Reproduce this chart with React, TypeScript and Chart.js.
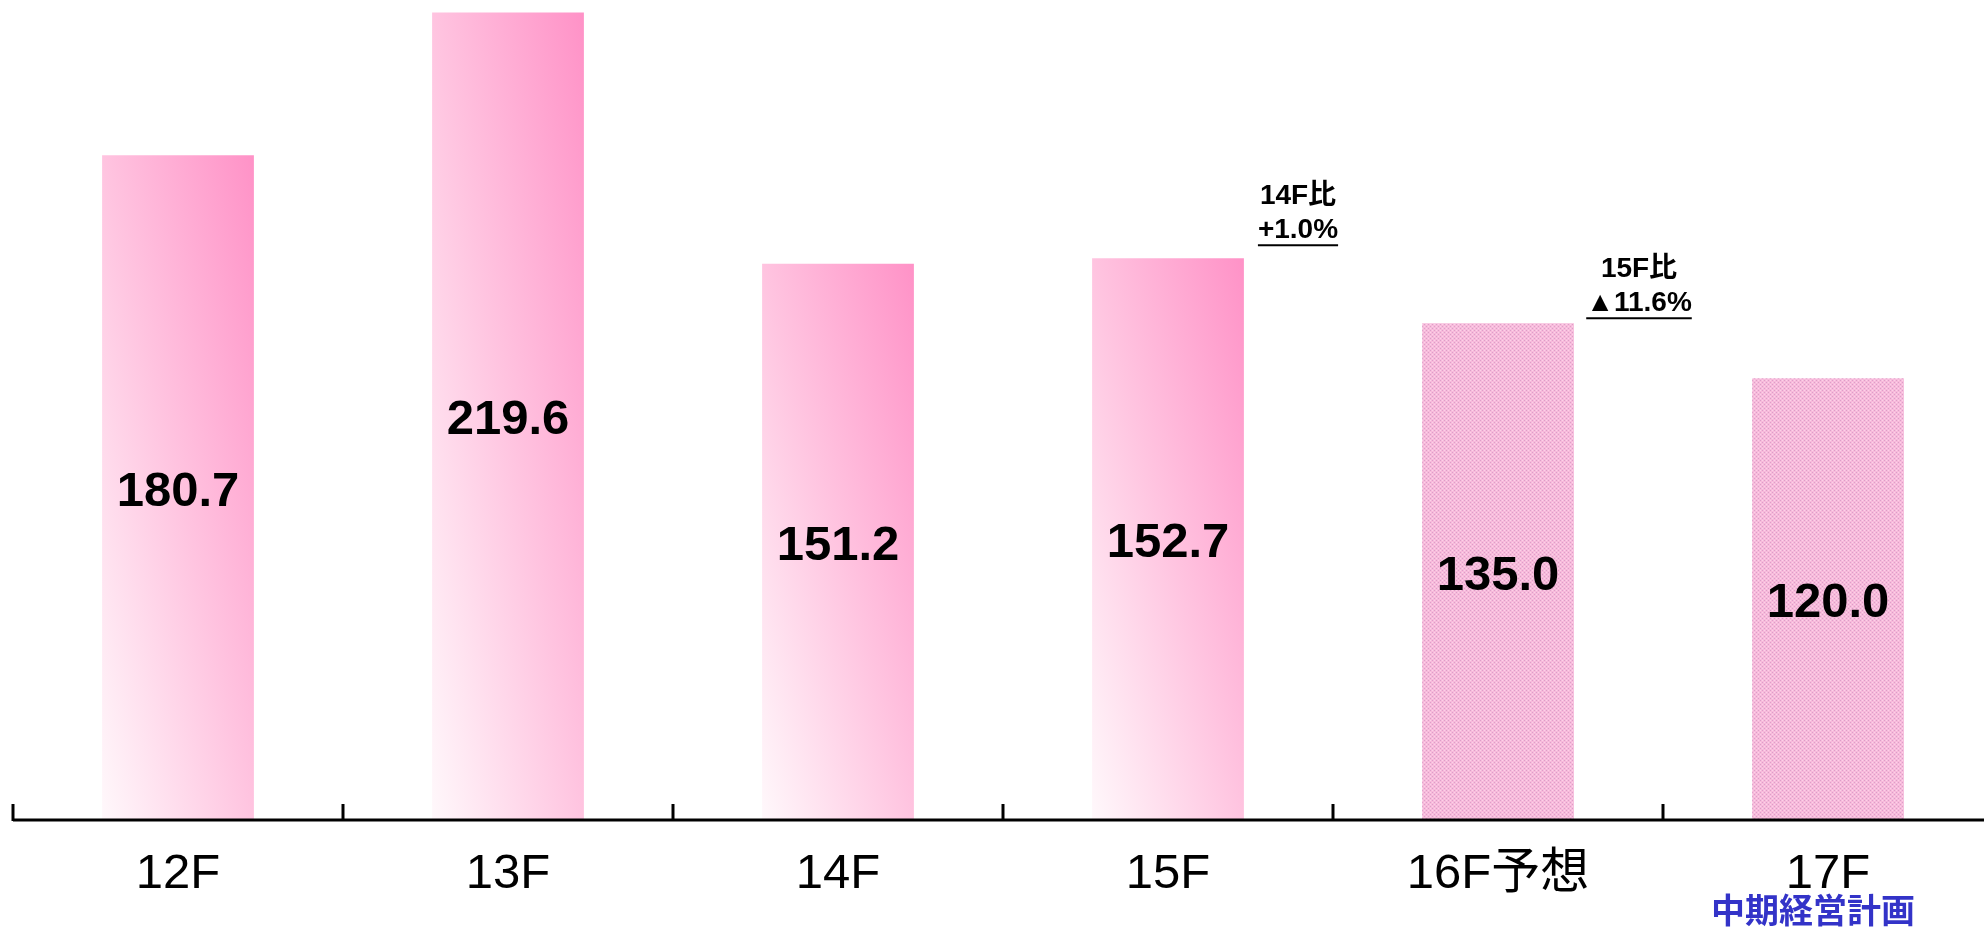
import React, { useEffect, useRef } from "react";
import { Chart, registerables } from "chart.js";

Chart.register(...registerables);

const categories: string[] = ["12F", "13F", "14F", "15F", "16F予想", "17F"];
const values: number[] = [180.7, 219.6, 151.2, 152.7, 135.0, 120.0];
const forecastFlags: boolean[] = [false, false, false, false, true, true];
const annotationLine1: string[] = ["14F比", "15F比"];
const annotationLine2: string[] = ["+1.0%", "▲11.6%"];
const annotationBarIndex: number[] = [3, 4];
const planLabel = "中期経営計画";

const FONT = "'Liberation Sans', Arial, 'Noto Sans CJK JP', sans-serif";

function makePattern(): CanvasPattern | string {
  const c = document.createElement("canvas");
  c.width = 4;
  c.height = 4;
  const g = c.getContext("2d");
  if (!g) return "#f5bcd9";
  g.fillStyle = "#f7badb";
  g.fillRect(0, 0, 4, 4);
  g.fillStyle = "#dc9fc8";
  g.fillRect(0, 0, 1, 1);
  g.fillRect(2, 2, 1, 1);
  g.fillStyle = "#fbd3e8";
  g.fillRect(2, 0, 1, 1);
  g.fillRect(0, 2, 1, 1);
  const p = g.createPattern(c, "repeat");
  return p || "#f5bcd9";
}

const overlayPlugin = {
  id: "overlay",
  afterDatasetsDraw(chart: any) {
    const ctx = chart.ctx;
    const x = chart.scales.x;
    const area = chart.chartArea;
    const meta = chart.getDatasetMeta(0);
    ctx.save();
    // axis line
    ctx.strokeStyle = "#000";
    ctx.lineWidth = 3;
    ctx.beginPath();
    ctx.moveTo(x.left, area.bottom + 1);
    ctx.lineTo(x.right, area.bottom + 1);
    ctx.stroke();
    // inward tick marks at category boundaries
    for (let i = 0; i <= categories.length; i++) {
      const px = Math.round(x.getPixelForValue(i - 0.5));
      ctx.beginPath();
      ctx.moveTo(px, area.bottom - 15);
      ctx.lineTo(px, area.bottom + 2);
      ctx.stroke();
    }
    // value labels
    ctx.fillStyle = "#000";
    ctx.font = `bold 49px ${FONT}`;
    ctx.textAlign = "center";
    ctx.textBaseline = "middle";
    meta.data.forEach((bar: any, i: number) => {
      const cy = (bar.y + bar.base) / 2;
      ctx.fillText(values[i].toFixed(1), bar.x, cy + 5);
    });
    // comparison annotations
    const offsets = [130, 141];
    const rises = [28, 20];
    ctx.font = `bold 28px ${FONT}`;
    annotationBarIndex.forEach((bi, k) => {
      const bar: any = meta.data[bi];
      const cx = x.getPixelForValue(bi) + offsets[k];
      const y2 = bar.y - rises[k];
      const y1 = y2 - 34;
      ctx.fillText(annotationLine1[k], cx, y1);
      ctx.fillText(annotationLine2[k], cx, y2);
      const w = ctx.measureText(annotationLine2[k]).width;
      ctx.lineWidth = 2;
      ctx.beginPath();
      ctx.moveTo(cx - w / 2, y2 + 15);
      ctx.lineTo(cx + w / 2, y2 + 15);
      ctx.stroke();
    });
    // plan label under 17F
    ctx.fillStyle = "#3333c8";
    ctx.font = `bold 34px ${FONT}`;
    ctx.fillText(planLabel, x.getPixelForValue(5) - 15, 914);
    ctx.restore();
  },
};

export default function App() {
  const ref = useRef<HTMLCanvasElement | null>(null);
  useEffect(() => {
    const canvas = ref.current;
    if (!canvas) return;
    const pattern = makePattern();
    const chart = new Chart(canvas, {
      type: "bar",
      data: {
        labels: categories,
        datasets: [
          {
            data: values,
            borderWidth: 0,
            barPercentage: 0.46,
            categoryPercentage: 1,
            backgroundColor: (c: any) => {
              const i = c.dataIndex;
              if (forecastFlags[i]) return pattern;
              const ch = c.chart;
              const xs = ch.scales.x;
              const ys = ch.scales.y;
              if (!ch.chartArea || !xs || !ys) return "#ffb6d9";
              const cxp = xs.getPixelForValue(i);
              const catW = xs.width / categories.length;
              const w = catW * 0.46;
              const top = ys.getPixelForValue(values[i]);
              const bottom = ys.getPixelForValue(0);
              const h = bottom - top;
              const cyp = (top + bottom) / 2;
              const k = (w * h) / (h * h + w * w);
              const g = ch.ctx.createLinearGradient(
                cxp - k * h,
                cyp + k * w,
                cxp + k * h,
                cyp - k * w
              );
              g.addColorStop(0, "#fff8fb");
              g.addColorStop(0.5, "#ffc4e0");
              g.addColorStop(1, "#ff92c7");
              return g;
            },
          },
        ],
      },
      options: {
        responsive: false,
        animation: false,
        layout: { padding: { left: 13, right: 7, top: 0, bottom: 0 } },
        plugins: {
          legend: { display: false },
          tooltip: { enabled: false },
        },
        scales: {
          x: {
            grid: { display: false, drawTicks: false },
            border: { display: false },
            ticks: {
              color: "#000",
              font: { size: 49, family: FONT, lineHeight: 55 / 49 },
              padding: 28,
              maxRotation: 0,
              autoSkip: false,
            },
          },
          y: {
            display: false,
            min: 0,
            max: 223,
          },
        },
      },
      plugins: [overlayPlugin],
    });
    return () => chart.destroy();
  }, []);
  return (
    <div
      style={{
        position: "fixed",
        left: 0,
        top: 0,
        width: 1984,
        height: 930,
        overflow: "hidden",
        background: "#fff",
      }}
    >
      <canvas ref={ref} width={2000} height={930} style={{ width: 2000, height: 930, display: "block" }} />
    </div>
  );
}
